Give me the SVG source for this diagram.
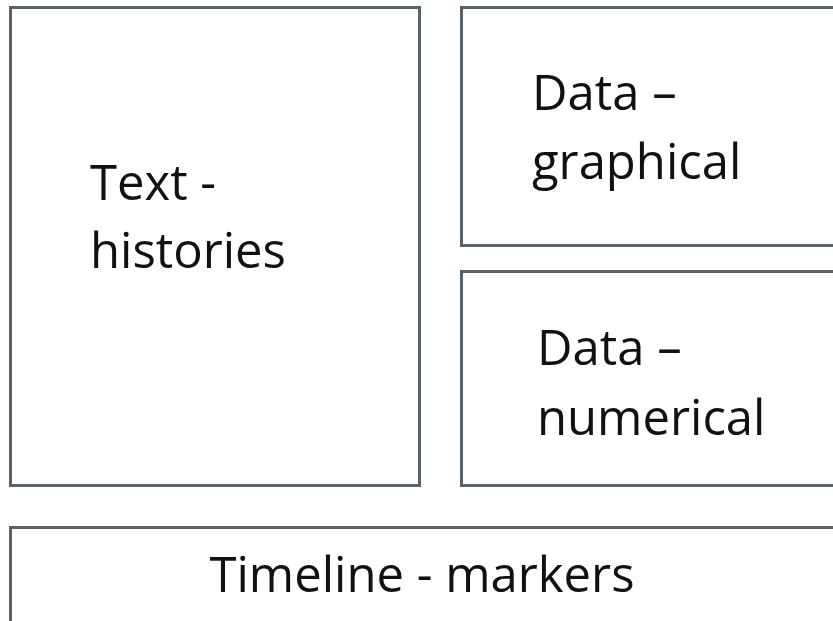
<svg xmlns="http://www.w3.org/2000/svg" width="833" height="621" viewBox="0 0 833 621">
<style>
.box{fill:#ffffff;stroke:#58626b;stroke-width:3}
.t{font-family:"Open Sans","Liberation Sans",sans-serif;font-size:49px;fill:#111111}
</style>
<rect x="0" y="0" width="833" height="621" fill="#ffffff"/>
<g id="text-histories">
<rect class="box" x="10.5" y="7.5" width="409" height="478"/>
<text class="t" x="90" y="200">Text -</text>
<text class="t" x="90" y="268">histories</text>
</g>
<g id="data-graphical">
<rect class="box" x="461.5" y="7.5" width="390" height="238"/>
<text class="t" x="532" y="110">Data –</text>
<text class="t" x="532" y="179">graphical</text>
</g>
<g id="data-numerical">
<rect class="box" x="461.5" y="271.5" width="390" height="214"/>
<text class="t" x="537" y="365">Data –</text>
<text class="t" x="537" y="435">numerical</text>
</g>
<g id="timeline-markers">
<rect class="box" x="10.5" y="527.5" width="840" height="120"/>
<text class="t" x="422" y="592" text-anchor="middle">Timeline - markers</text>
</g>
<g id="connectors"></g>
</svg>
